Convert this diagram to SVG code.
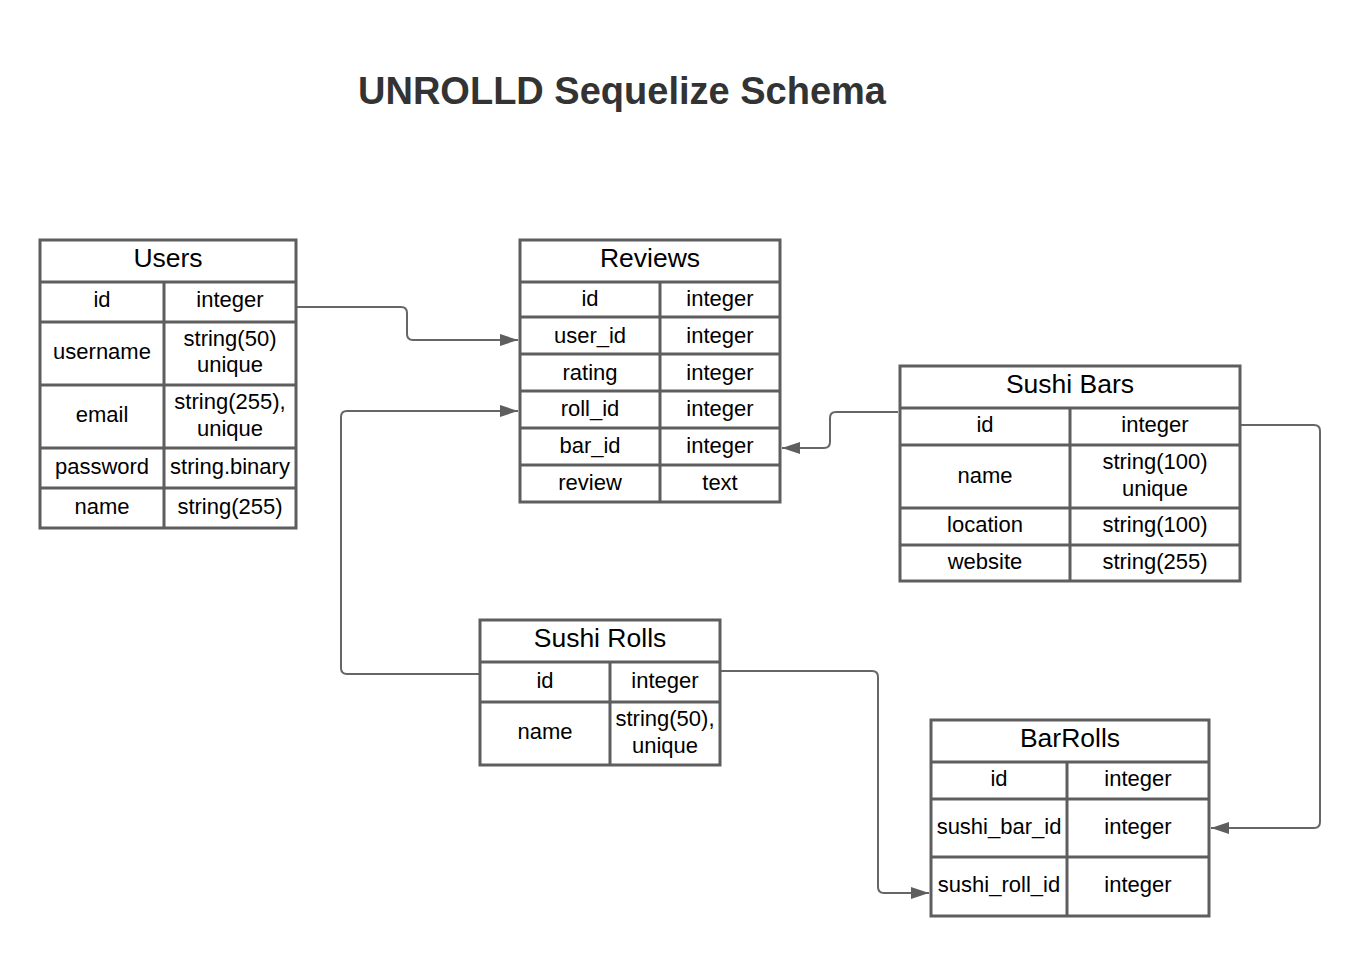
<svg xmlns="http://www.w3.org/2000/svg" width="1360" height="956" viewBox="0 0 1360 956">
<defs>
<style>
.tb{fill:#fff;stroke:#5e5e5e;stroke-width:3}
.ln{stroke:#5e5e5e;stroke-width:3;fill:none}
.t{font-family:"Liberation Sans",Arial,sans-serif;font-size:22px;fill:#000;text-anchor:middle}
.h{font-family:"Liberation Sans",Arial,sans-serif;font-size:26.5px;fill:#000;text-anchor:middle}
.c{stroke:#666;stroke-width:2;fill:none}
</style>
<marker id="ar" markerUnits="userSpaceOnUse" markerWidth="20" markerHeight="14" refX="18" refY="6" orient="auto">
<path d="M0,0 L18,6 L0,12 z" fill="#5e5e5e"/>
</marker>
</defs>
<rect width="1360" height="956" fill="#fff"/>
<text x="622" y="104" font-family="Liberation Sans,Arial,sans-serif" font-size="38" font-weight="bold" fill="#333" text-anchor="middle">UNROLLD Sequelize Schema</text>

<g id="connectors">
<path class="c" marker-end="url(#ar)" d="M297,307 H401 Q407,307 407,313 V334 Q407,340 413,340 H518"/>
<path class="c" marker-end="url(#ar)" d="M480,674 H347 Q341,674 341,668 V417 Q341,411 347,411 H518"/>
<path class="c" marker-end="url(#ar)" d="M898,412 H836 Q830,412 830,418 V442 Q830,448 824,448 H782"/>
<path class="c" marker-end="url(#ar)" d="M1241,425 H1314 Q1320,425 1320,431 V822 Q1320,828 1314,828 H1211"/>
<path class="c" marker-end="url(#ar)" d="M720,671 H872 Q878,671 878,677 V887 Q878,893 884,893 H929"/>
</g>

<g id="users">
<rect class="tb" x="40" y="240" width="256" height="288"/>
<path class="ln" d="M40,282 H296 M40,322 H296 M40,385 H296 M40,448 H296 M40,488 H296 M164,282 V528"/>
<text class="h" x="168" y="267">Users</text>
<text class="t" x="102" y="307">id</text><text class="t" x="230" y="307">integer</text>
<text class="t" x="102" y="359">username</text><text class="t" x="230" y="346">string(50)</text><text class="t" x="230" y="372">unique</text>
<text class="t" x="102" y="422">email</text><text class="t" x="230" y="409">string(255),</text><text class="t" x="230" y="436">unique</text>
<text class="t" x="102" y="474">password</text><text class="t" x="230" y="474">string.binary</text>
<text class="t" x="102" y="514">name</text><text class="t" x="230" y="514">string(255)</text>
</g>

<g id="reviews">
<rect class="tb" x="520" y="240" width="260" height="262"/>
<path class="ln" d="M520,282 H780 M520,317 H780 M520,354 H780 M520,391 H780 M520,428 H780 M520,465 H780 M660,282 V502"/>
<text class="h" x="650" y="267">Reviews</text>
<text class="t" x="590" y="306">id</text><text class="t" x="720" y="306">integer</text>
<text class="t" x="590" y="343">user_id</text><text class="t" x="720" y="343">integer</text>
<text class="t" x="590" y="380">rating</text><text class="t" x="720" y="380">integer</text>
<text class="t" x="590" y="416">roll_id</text><text class="t" x="720" y="416">integer</text>
<text class="t" x="590" y="453">bar_id</text><text class="t" x="720" y="453">integer</text>
<text class="t" x="590" y="490">review</text><text class="t" x="720" y="490">text</text>
</g>

<g id="sushi-bars">
<rect class="tb" x="900" y="366" width="340" height="215"/>
<path class="ln" d="M900,408 H1240 M900,445 H1240 M900,508 H1240 M900,545 H1240 M1070,408 V581"/>
<text class="h" x="1070" y="393">Sushi Bars</text>
<text class="t" x="985" y="432">id</text><text class="t" x="1155" y="432">integer</text>
<text class="t" x="985" y="483">name</text><text class="t" x="1155" y="469">string(100)</text><text class="t" x="1155" y="496">unique</text>
<text class="t" x="985" y="532">location</text><text class="t" x="1155" y="532">string(100)</text>
<text class="t" x="985" y="569">website</text><text class="t" x="1155" y="569">string(255)</text>
</g>

<g id="sushi-rolls">
<rect class="tb" x="480" y="620" width="240" height="145"/>
<path class="ln" d="M480,662 H720 M480,702 H720 M610,662 V765"/>
<text class="h" x="600" y="647">Sushi Rolls</text>
<text class="t" x="545" y="688">id</text><text class="t" x="665" y="688">integer</text>
<text class="t" x="545" y="739">name</text><text class="t" x="665" y="726">string(50),</text><text class="t" x="665" y="753">unique</text>
</g>

<g id="barrolls">
<rect class="tb" x="931" y="720" width="278" height="196"/>
<path class="ln" d="M931,762 H1209 M931,799 H1209 M931,857 H1209 M1067,762 V916"/>
<text class="h" x="1070" y="747">BarRolls</text>
<text class="t" x="999" y="786">id</text><text class="t" x="1138" y="786">integer</text>
<text class="t" x="999" y="834">sushi_bar_id</text><text class="t" x="1138" y="834">integer</text>
<text class="t" x="999" y="892">sushi_roll_id</text><text class="t" x="1138" y="892">integer</text>
</g>
</svg>
